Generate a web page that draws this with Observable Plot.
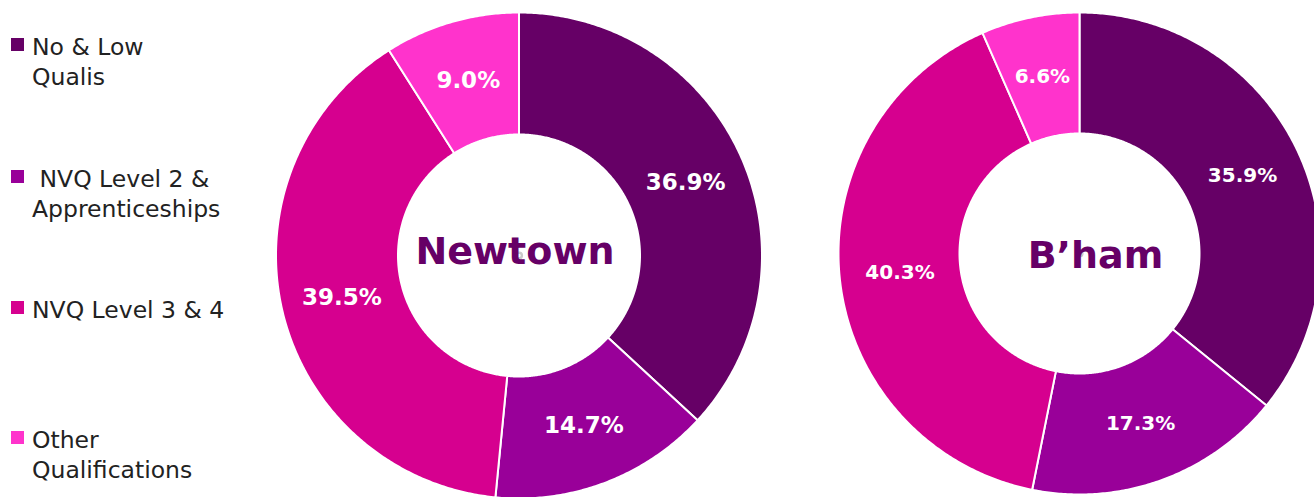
<!DOCTYPE html>
<html>
<head>
<meta charset="utf-8">
<script src="https://cdn.jsdelivr.net/npm/d3@7"></script>
<script src="https://cdn.jsdelivr.net/npm/@observablehq/plot@0.6"></script>
<style>
  html, body { margin: 0; padding: 0; background: #fff; overflow: hidden; }
  #wrap { position: relative; width: 1314px; height: 497px; display: flex; }
  #legend { position: relative; width: 260px; height: 497px; flex: none;
            font-family: "DejaVu Sans", sans-serif; font-size: 23.5px; color: #222; }
  .item { position: absolute; left: 0; width: 260px; line-height: 30px; }
  .sw { position: absolute; left: 11px; top: 6px; width: 13px; height: 13px; }
  .lab { position: absolute; left: 32px; top: 0; white-space: pre; }
  #chart { flex: none; }
</style>
</head>
<body>
<div id="wrap">
  <div id="legend"></div>
  <div id="chart"></div>
</div>
<script>
// ---- data ----
const categories = ["No & Low\nQualis", " NVQ Level 2 &\nApprenticeships", "NVQ Level 3 & 4", "Other\nQualifications"];
const areas = ["Newtown", "B’ham"];
const newtownValues = [36.9, 14.7, 39.5, 9.0];
const bhamValues = [35.9, 17.3, 40.3, 6.6];

// ---- styles / layout ----
const colors = ["#660066", "#990099", "#d6008f", "#ff33cc"];
const W = 1054, H = 497;
const layout = [
  {area: areas[0], values: newtownValues, cx: 258.5, cy: 255, rOuter: 243, rInner: 121, titleX: -4, titleY: -4, labelSize: 23},
  {area: areas[1], values: bhamValues, cx: 819, cy: 253, rOuter: 241, rInner: 120, titleX: 16, titleY: 2, labelSize: 20}
];

// legend
const legendTops = [32, 164, 295, 425];
const legend = document.getElementById("legend");
categories.forEach((c, i) => {
  const it = document.createElement("div");
  it.className = "item";
  it.style.top = legendTops[i] + "px";
  it.innerHTML = `<div class="sw" style="background:${colors[i]}"></div><div class="lab"></div>`;
  it.querySelector(".lab").textContent = c;
  legend.appendChild(it);
});

// slice polygons & labels computed from the values
const polys = [];
const labels = [];
for (const L of layout) {
  const total = d3.sum(L.values);
  let acc = 0;
  L.values.forEach((v, i) => {
    const a0 = acc / total * 2 * Math.PI;
    acc += v;
    const a1 = acc / total * 2 * Math.PI;
    const n = Math.max(2, Math.ceil((a1 - a0) / (Math.PI / 360)));
    const key = L.area + "|" + i;
    const pts = [];
    for (let k = 0; k <= n; k++) {
      const a = a0 + (a1 - a0) * k / n;
      pts.push({key, cat: categories[i], x: L.cx + L.rOuter * Math.sin(a), y: L.cy - L.rOuter * Math.cos(a)});
    }
    for (let k = n; k >= 0; k--) {
      const a = a0 + (a1 - a0) * k / n;
      pts.push({key, cat: categories[i], x: L.cx + L.rInner * Math.sin(a), y: L.cy - L.rInner * Math.cos(a)});
    }
    pts.push({...pts[0]});
    polys.push(...pts);
    const am = (a0 + a1) / 2, rm = (L.rOuter + L.rInner) / 2;
    labels.push({area: L.area, value: v, size: L.labelSize,
                 x: L.cx + rm * Math.sin(am), y: L.cy - rm * Math.cos(am)});
  });
}

const chart = Plot.plot({
  width: W, height: H,
  marginTop: 0, marginRight: 0, marginBottom: 0, marginLeft: 0,
  x: {domain: [0, W], range: [0, W], axis: null},
  y: {domain: [0, H], range: [0, H], axis: null},
  color: {domain: categories, range: colors},
  style: {fontFamily: "DejaVu Sans, sans-serif", background: "white"},
  marks: [
    Plot.line(polys, {x: "x", y: "y", z: "key", fill: "cat", stroke: "white", strokeWidth: 2, curve: "linear"}),
    Plot.dot(layout, {x: "cx", y: "cy", r: (d) => d.rOuter, stroke: "#c8c8c8", strokeWidth: 1.2, fill: "none"}),
    Plot.dot(layout, {x: "cx", y: "cy", r: (d) => d.rInner, stroke: "#c8c8c8", strokeWidth: 1.5, fill: "white"}),
    Plot.text(labels, {x: "x", y: "y", text: (d) => d.value.toFixed(1) + "%", fill: "white",
                       fontWeight: "bold", fontSize: (d) => d.size, textAnchor: "middle"}),
    Plot.text(layout, {x: (d) => d.cx + d.titleX, y: (d) => d.cy + d.titleY, text: "area", fill: "#660066",
                       fontWeight: "bold", fontSize: 38, textAnchor: "middle"})
  ]
});
document.getElementById("chart").appendChild(chart);
</script>
</body>
</html>
